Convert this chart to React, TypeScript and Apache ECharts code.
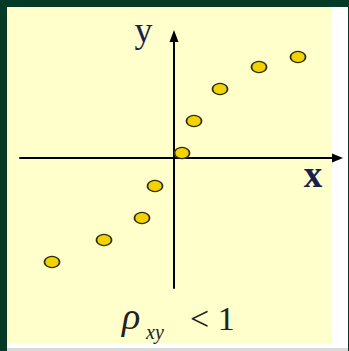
import React, { useEffect, useRef } from "react";
import * as echarts from "echarts";

const xValues = [-12.2, -7.0, -3.2, -1.9, 0.8, 2.0, 4.6, 8.5, 12.4];
const yValues = [-10.4, -8.2, -6.0, -2.8, 0.5, 3.7, 6.9, 9.1, 10.1];
const xLabel = "x";
const yLabel = "y";
const formulaMain = "ρ";
const formulaSub = "xy";
const formulaRest = "< 1";

export default function App() {
  const ref = useRef<HTMLDivElement>(null);
  useEffect(() => {
    document.body.style.margin = "0";
    const chart = echarts.init(ref.current!, null, { renderer: "svg" });
    const data = xValues.map((x, i) => [x, yValues[i]]);
    chart.setOption({
      animation: false,
      grid: { left: 20, right: 11.5, top: 36, bottom: 63 },
      xAxis: {
        type: "value",
        min: -15.4,
        max: 16.35,
        axisLine: {
          onZero: true,
          symbol: ["none", "triangle"],
          symbolSize: [9, 11],
          lineStyle: { color: "#000", width: 2 },
        },
        axisTick: { show: false },
        axisLabel: { show: false },
        splitLine: { show: false },
      },
      yAxis: {
        type: "value",
        min: -13,
        max: 12.2,
        axisLine: {
          onZero: true,
          symbol: ["none", "triangle"],
          symbolSize: [9, 12],
          lineStyle: { color: "#000", width: 2 },
        },
        axisTick: { show: false },
        axisLabel: { show: false },
        splitLine: { show: false },
      },
      series: [
        {
          type: "scatter",
          data,
          symbol: "circle",
          symbolSize: [15, 11],
          itemStyle: { color: "#f2d200", borderColor: "#2e2e10", borderWidth: 1.5, opacity: 1 },
          z: 3,
        },
      ],
      graphic: [
        {
          type: "text",
          x: 143.5,
          y: 30,
          style: {
            text: yLabel,
            font: "36px 'Liberation Serif'",
            fill: "#1b1f4d",
            textAlign: "center",
            textVerticalAlign: "middle",
          },
        },
        {
          type: "text",
          x: 313,
          y: 174,
          style: {
            text: xLabel,
            font: "bold 37px 'Liberation Serif'",
            fill: "#1b1f4d",
            textAlign: "center",
            textVerticalAlign: "middle",
          },
        },
        {
          type: "text",
          x: 122,
          y: 316,
          style: {
            text: formulaMain,
            font: "italic 38px 'Liberation Serif'",
            fill: "#222",
            textAlign: "left",
            textVerticalAlign: "middle",
          },
        },
        {
          type: "text",
          x: 146,
          y: 332,
          style: {
            text: formulaSub,
            font: "italic 20px 'Liberation Serif'",
            fill: "#222",
            textAlign: "left",
            textVerticalAlign: "middle",
          },
        },
        {
          type: "text",
          x: 190,
          y: 318,
          style: {
            text: formulaRest,
            font: "34px 'Liberation Serif'",
            fill: "#222",
            textAlign: "left",
            textVerticalAlign: "middle",
          },
        },
      ],
    });
    return () => chart.dispose();
  }, []);

  return (
    <div style={{ position: "relative", width: 349, height: 351, background: "#053a26", overflow: "hidden" }}>
      <div style={{ position: "absolute", left: 7, top: 7, width: 341, height: 341, background: "#ffffff" }} />
      <div style={{ position: "absolute", left: 7, top: 348, width: 341, height: 3, background: "#d9d9d9" }} />
      <div style={{ position: "absolute", left: 7, top: 7, width: 325, height: 336, background: "#ffffcc" }} />
      <div ref={ref} style={{ position: "absolute", left: 0, top: 0, width: 349, height: 351 }} />
    </div>
  );
}
